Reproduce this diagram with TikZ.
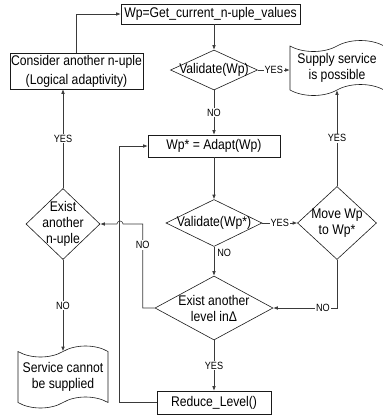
\documentclass[tikz,border=0pt]{standalone}
\usepackage{fontspec}
\setmainfont{Liberation Sans}[FakeStretch=0.87]
\usepackage{xcolor}
\usepackage{tikz}
\usetikzlibrary{arrows.meta,shapes.geometric,shapes.symbols}
\definecolor{Ink}{HTML}{1A1A1A}
\definecolor{Wire}{HTML}{3A3A3A}
\tikzset{
  proc/.style={
    draw=Ink, line width=.6pt, fill=white, align=center,
    inner sep=1pt, font=\fontsize{14}{16}\selectfont
  },
  decision/.style={diamond,draw=Ink,line width=.6pt,inner sep=0pt},
  dtext/.style={font=\fontsize{14}{16}\selectfont,align=center,inner sep=0pt},
  doc/.style={proc,tape,tape bend height=11pt},
  arr/.style={-{Latex[length=4.5pt,width=3.6pt]},line width=.6pt,draw=Wire},
  tag/.style={font=\fontsize{10.5}{11}\selectfont,fill=white,inner sep=1pt}
}
\begin{document}
\begin{tikzpicture}[x=1pt,y=-1pt]
  \useasboundingbox (0,0) rectangle (383,416);
  % process boxes
  \node[proc,minimum width=179pt,minimum height=20pt] (get) at (210.5,14) {Wp=Get\_current\_n-uple\_values};
  \node[proc,minimum width=133pt,minimum height=36pt,font=\fontsize{14}{19}\selectfont] (consider) at (76.5,71) {Consider another n-uple\\(Logical adaptivity)};
  \node[proc,minimum width=132pt,minimum height=22pt] (adapt) at (214,146) {Wp* = Adapt(Wp)};
  \node[proc,minimum width=114pt,minimum height=23pt] (reduce) at (214,402.5) {Reduce\_Level()};
  % decisions
  \node[decision,minimum width=87pt,minimum height=40pt,label={[dtext]center:Validate(Wp)}] (v1) at (214,70) {};
  \node[decision,minimum width=96pt,minimum height=47pt,label={[dtext]center:Validate(Wp*)}] (v2) at (214,223) {};
  \node[decision,minimum width=79pt,minimum height=73pt,label={[dtext]center:Move Wp\\to Wp*}] (move) at (337,223) {};
  \node[decision,minimum width=118pt,minimum height=64pt,label={[dtext]center:Exist another\\level inΔ}] (level) at (214,308) {};
  \node[decision,minimum width=74pt,minimum height=71pt,label={[dtext]center:Exist\\another\\n-uple}] (nuple) at (63,224) {};
  % documents
  \node[doc,minimum width=94pt,minimum height=55pt] (sup) at (337,68) {Supply service\\is possible};
  \node[doc,minimum width=90pt,minimum height=62pt] (nosup) at (63,377) {Service cannot\\be supplied};
  \coordinate (hop) at (120,224);

  \draw[arr] (consider.north) |- (get.west);
  \draw[arr] (v1.north |- get.south) -- (v1.north);
  \draw[arr] (v1.east) -- node[tag]{YES} (v1.east -| sup.west);
  \draw[arr] (v1.south) -- node[tag]{NO} (adapt.north);
  \draw[arr] (adapt.south) -- (v2.north);
  \draw[arr] (v2.east) -- node[tag]{YES} (move.west);
  \draw[arr] (move.north) -- node[tag]{YES} (move.north |- sup.south);
  \draw[arr] (move.south) |- node[tag,pos=.61]{NO} (level.east);
  \draw[arr] (v2.south) -- node[tag,fill=none,anchor=west,pos=.22,xshift=2pt]{NO} (level.north);
  \draw[arr] (level.south) -- node[tag]{YES} (reduce.north);
  \draw[arr] (reduce.west) -| ([xshift=-28pt]adapt.west) -- (adapt.west);
  \draw[arr] (level.west) -- ++(-12,0) |- node[tag,pos=.375]{NO} ([xshift=3pt]hop)
    arc[start angle=0,end angle=180,radius=3pt] -- (nuple.east);
  \draw[arr] (nuple.north) -- node[tag]{YES} (nuple.north |- consider.south);
  \draw[arr] (nuple.south) -- node[tag]{NO} (nosup.north);
\end{tikzpicture}
\end{document}
